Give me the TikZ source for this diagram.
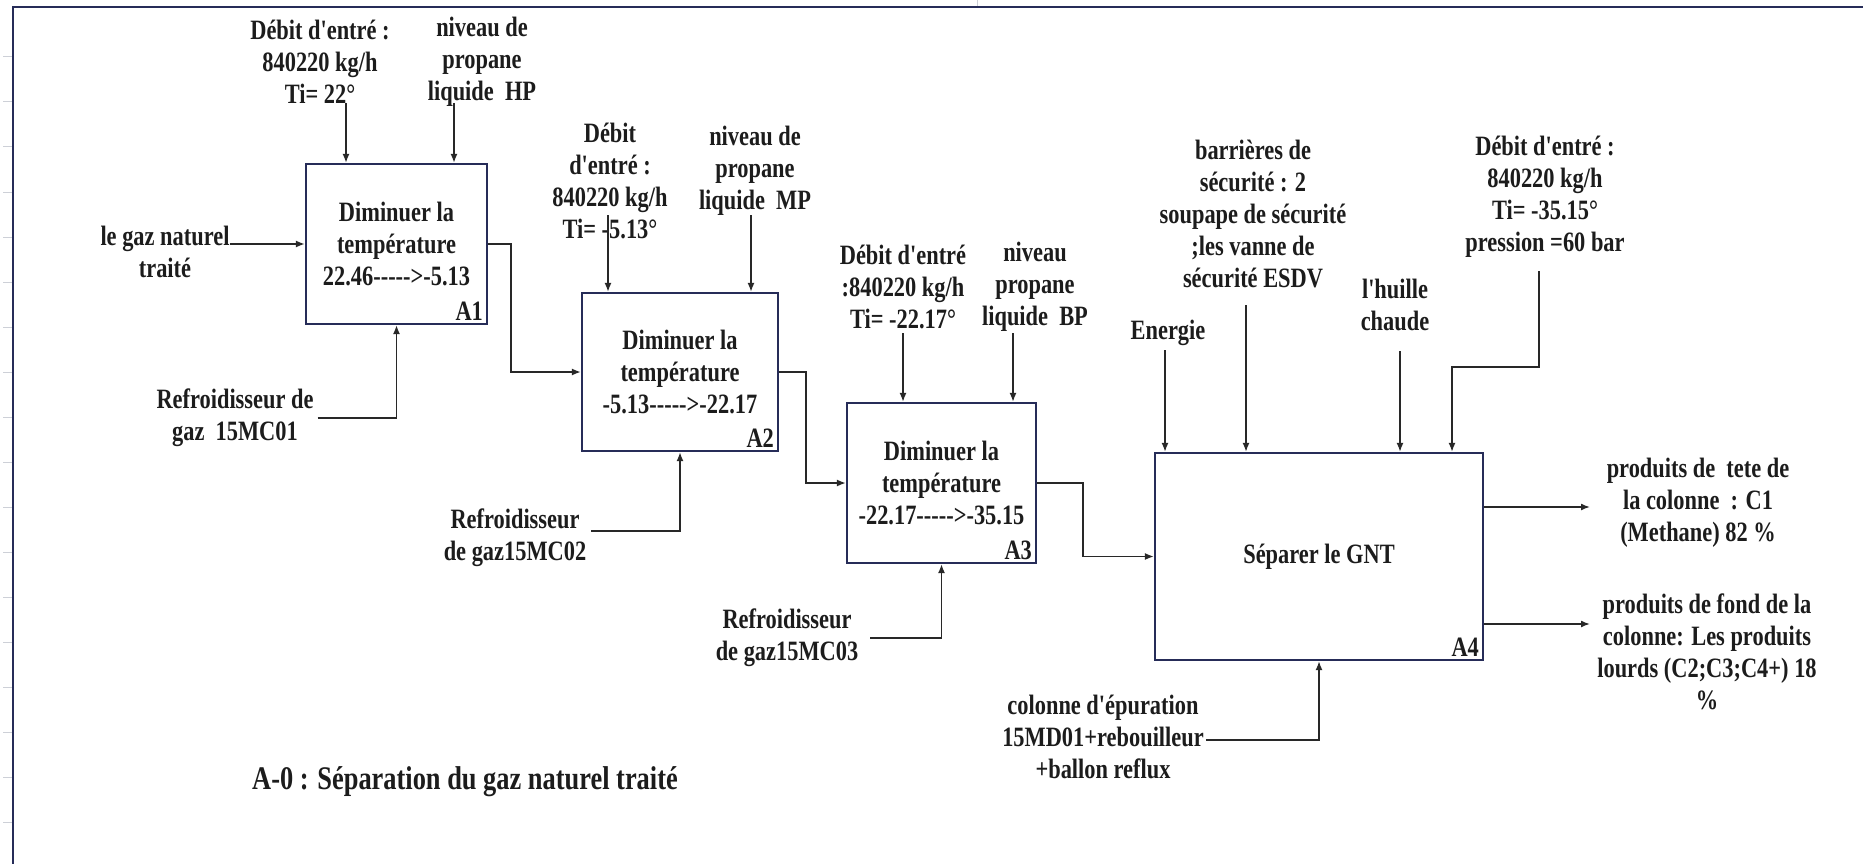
\documentclass[tikz,border=0pt]{standalone}
\usepackage{fontspec}
\setmainfont{Liberation Serif}[FakeStretch=0.8, Ligatures=TeXOff]
\usetikzlibrary{arrows.meta}
\definecolor{navy}{RGB}{38,44,88}
\definecolor{inkc}{RGB}{28,28,28}
\definecolor{wirec}{RGB}{40,40,40}
\definecolor{gridc}{RGB}{205,208,215}
\begin{document}
\begin{tikzpicture}[x=1pt, y=-1pt,
  every node/.style={font=\fontsize{28}{32}\selectfont\bfseries, text=inkc, inner sep=0pt, align=center},
  func/.style={draw=navy, line width=2.2pt, fill=white},
  flow/.style={draw=wirec, line width=1.6pt, -{Latex[length=9pt,width=7pt]}},
  tag/.style={anchor=south east},
  titletext/.style={font=\fontsize{33}{38}\selectfont\bfseries}
]
\useasboundingbox (0,0) rectangle (1863,864);

% sheet frame and row marks
\draw[navy, line width=2.2pt] (13,864) -- (13,7) -- (1863,7);
\foreach \k in {1,...,18} \draw[gridc, line width=1pt] (3,12+45*\k) -- (12,12+45*\k);
\draw[gridc, line width=1pt] (977,0) -- (977,6);

% activity boxes
\node[func, minimum width=181pt, minimum height=160pt] (A1) at (396.5,244) {Diminuer la\\température\\22.46----->-5.13};
\node[func, minimum width=196pt, minimum height=158pt] (A2) at (680,372) {Diminuer la\\température\\-5.13----->-22.17};
\node[func, minimum width=189pt, minimum height=160pt] (A3) at (941.5,483) {Diminuer la\\température\\-22.17----->-35.15};
\node[func, minimum width=328pt, minimum height=207pt] (A4) at (1319,556.5) {Séparer le GNT};

\node[tag] (A1id) at ([xshift=-5pt,yshift=4pt]A1.south east) {A1};
\node[tag] (A2id) at ([xshift=-5pt,yshift=4pt]A2.south east) {A2};
\node[tag] (A3id) at ([xshift=-5pt,yshift=4pt]A3.south east) {A3};
\node[tag] (A4id) at ([xshift=-5pt,yshift=4pt]A4.south east) {A4};

% labels
\node (d1) at (320,62) {Débit d'entré :\\840220 kg/h\\Ti= 22°};
\node (n1) at (482,62) {niveau de\\propane\\liquide\ \ HP};
\node (gaz) at (165,252) {le gaz naturel\\traité};
\node (ref1) at (235,418) {Refroidisseur de\\gaz\ \ 15MC01};

\node (d2) at (610,181) {Débit\\d'entré :\\840220 kg/h\\Ti= -5.13°};
\node (n2) at (755,171) {niveau de\\propane\\liquide\ \ MP};
\node (ref2) at (515,538) {Refroidisseur\\de gaz15MC02};

\node (d3) at (903,287) {Débit d'entré\\:840220 kg/h\\Ti= -22.17°};
\node (n3) at (1035,287) {niveau\\propane\\liquide\ \ BP};
\node (ref3) at (787,638) {Refroidisseur\\de gaz15MC03};

\node (en) at (1168,333) {Energie};
\node (bar) at (1253,214) {barrières de\\sécurité : 2\\soupape de sécurité\\;les vanne de\\sécurité ESDV};
\node (hui) at (1395,305) {l'huille\\chaude};
\node (d4) at (1545,197) {Débit d'entré :\\840220 kg/h\\Ti= -35.15°\\pression =60 bar};
\node (col) at (1103,737) {colonne d'épuration\\15MD01+rebouilleur\\+ballon reflux};

\node (out1) at (1698,503) {produits de\ \ tete de\\la colonne\ \ : C1\\(Methane) 82 \%};
\node (out2) at (1707,652) {produits de fond de la\\colonne: Les produits\\lourds (C2;C3;C4+) 18\\\%};

\node[titletext] (title) at (465,782) {A-0 : Séparation du gaz naturel traité};

% arrow starting points
\coordinate (t1a) at (346,103);
\coordinate (t1b) at (454,103);
\coordinate (t2a) at (608,215);
\coordinate (t2b) at (751,215);
\coordinate (t3a) at (903,333);
\coordinate (t3b) at (1013,333);
\coordinate (t4a) at (1165,350);
\coordinate (t4b) at (1246,305);
\coordinate (t4c) at (1400,351);
\coordinate (t4d) at (1539,271);
\coordinate (k4) at (1452,367);
\coordinate (o1) at (1590,507);
\coordinate (o2) at (1590,624);

% inputs and flows between activities
\draw[flow] (gaz.east |- A1.west) -- (A1.west);
\draw[flow] (A1.east) -- ++(23,0) |- (A2.west);
\draw[flow] (A2.east) -- ++(27,0) |- (A3.west);
\draw[flow] (A3.east) -- ++(46,0) |- (A4.west);

% controls
\draw[flow] (t1a) -- (t1a |- A1.north);
\draw[flow] (t1b) -- (t1b |- A1.north);
\draw[flow] (t2a) -- (t2a |- A2.north);
\draw[flow] (t2b) -- (t2b |- A2.north);
\draw[flow] (t3a) -- (t3a |- A3.north);
\draw[flow] (t3b) -- (t3b |- A3.north);
\draw[flow] (t4a) -- (t4a |- A4.north);
\draw[flow] (t4b) -- (t4b |- A4.north);
\draw[flow] (t4c) -- (t4c |- A4.north);
\draw[flow] (t4d) |- (k4) -- (k4 |- A4.north);

% mechanisms
\draw[flow] ([xshift=4pt]ref1.east) -| (A1.south);
\draw[flow] ([xshift=5pt,yshift=7pt]ref2.east) -| (A2.south);
\draw[flow] ([xshift=12pt]ref3.east) -| (A3.south);
\draw[flow] ([xshift=2pt,yshift=-3pt]col.east) -| (A4.south);

% outputs
\draw[flow] (A4.east |- o1) -- (o1);
\draw[flow] (A4.east |- o2) -- (o2);
\end{tikzpicture}
\end{document}
